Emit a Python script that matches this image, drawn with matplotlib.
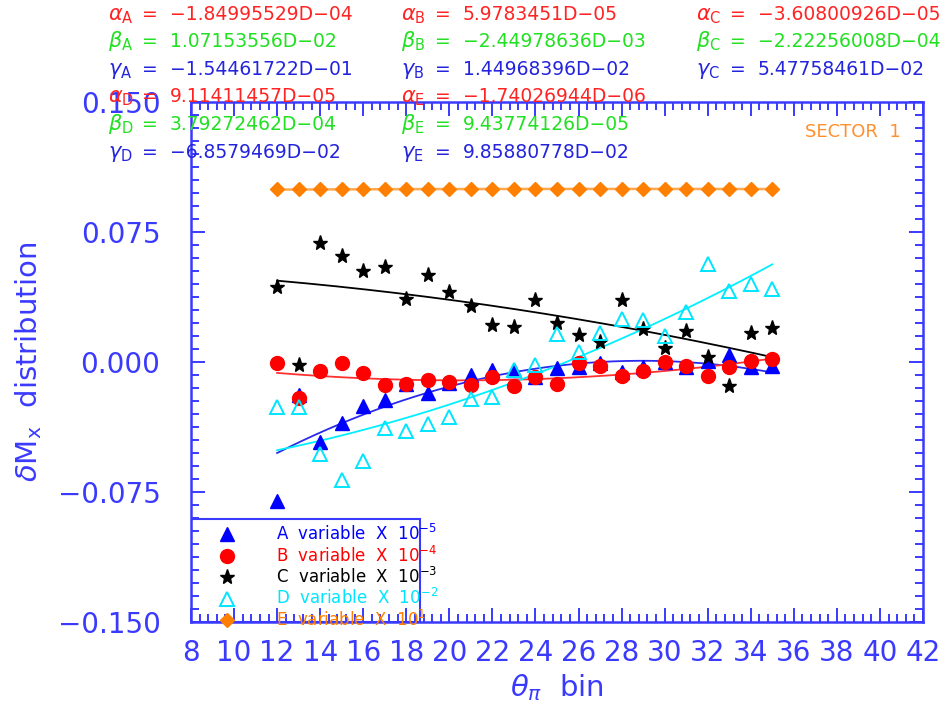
"""Sector 1 delta-Mx distributions vs theta_pi bin, with quadratic fits."""
import matplotlib
matplotlib.use("Agg")
import matplotlib.pyplot as plt
import numpy as np
from matplotlib.patches import Rectangle
from matplotlib.ticker import MultipleLocator

# theta_pi bins
bins = list(range(12, 36))

# measured points (already scaled as in the legend)
var_a = [-0.0800, -0.0190, -0.0460, -0.0354, -0.0254, -0.0219, -0.0129, -0.0177,
         -0.0123, -0.0075, -0.0046, -0.0046, -0.0085, -0.0037, -0.0027, -0.0008,
         -0.0060, -0.0027, 0.0002, -0.0027, 0.0006, 0.0040, -0.0031, -0.0021]
var_b = [-0.0008, -0.0206, -0.0050, -0.0008, -0.0065, -0.0133, -0.0129, -0.0104,
         -0.0113, -0.0133, -0.0088, -0.0137, -0.0085, -0.0129, -0.0004, -0.0023,
         -0.0081, -0.0052, -0.0002, -0.0023, -0.0079, -0.0031, 0.0008, 0.0017]
var_c = [0.0431, -0.0017, 0.0685, 0.0613, 0.0527, 0.0550, 0.0364, 0.0502,
         0.0402, 0.0325, 0.0213, 0.0200, 0.0358, 0.0227, 0.0156, 0.0117,
         0.0358, 0.0188, 0.0079, 0.0179, 0.0031, -0.0138, 0.0169, 0.0194]
var_d = [-0.0258, -0.0258, -0.0533, -0.0681, -0.0571, -0.0379, -0.0396, -0.0358,
         -0.0319, -0.0215, -0.0200, -0.0046, -0.0017, 0.0160, 0.0060, 0.0169,
         0.0248, 0.0242, 0.0150, 0.0290, 0.0564, 0.0410, 0.0448, 0.0421]
var_e = [0.0996] * 24

series_names = ["A", "B", "C", "D", "E"]
series_scale = ["-5", "-4", "-3", "-2", "1"]

# fit coefficients as printed on the plot (y = alpha*x^2 + beta*x + gamma)
alpha_txt = ["−1.84995529D−04", "5.9783451D−05", "−3.60800926D−05",
             "9.11411457D−05", "−1.74026944D−06"]
beta_txt = ["1.07153556D−02", "−2.44978636D−03", "−2.22256008D−04",
            "3.79272462D−04", "9.43774126D−05"]
gamma_txt = ["−1.54461722D−01", "1.44968396D−02", "5.47758461D−02",
             "−6.8579469D−02", "9.85880778D−02"]

yticks = [-0.150, -0.075, 0.000, 0.075, 0.150]
ytick_labels = ["−0.150", "−0.075", "0.000", "0.075", "0.150"]
xticks = list(range(8, 43, 2))


def to_float(s):
    return float(s.replace("−", "-").replace("D", "e"))


BLUE_AX = "#3a3aff"
COLORS = ["#0000ff", "#ff0000", "#000000", "#00e5ff", "#ff8000"]
FIT_COLORS = ["#2a2aee", "#ff3030", "#000000", "#00f0ff", "#ffa850"]
TXT_RED, TXT_GREEN, TXT_BLUE = "#ff2424", "#22e022", "#2424dd"

W, H = 950, 715
fig = plt.figure(figsize=(W / 100, H / 100), dpi=100)
ax = fig.add_axes([191 / W, 1 - 622 / H, (923 - 191) / W, (622 - 102) / H])

# fitted parabolas
xs = np.linspace(bins[0], bins[-1], 200)
for i in range(5):
    a, b, c = to_float(alpha_txt[i]), to_float(beta_txt[i]), to_float(gamma_txt[i])
    ax.plot(xs, a * xs ** 2 + b * xs + c, color=FIT_COLORS[i],
            lw=1.8 if i == 4 else 1.3, zorder=2)

# data points
data = [var_a, var_b, var_c, var_d, var_e]
styles = [
    dict(marker="^", ms=10, mfc=COLORS[0], mec=COLORS[0]),
    dict(marker="o", ms=10, mfc=COLORS[1], mec=COLORS[1]),
    dict(marker="*", ms=11, mfc=COLORS[2], mec=COLORS[2]),
    dict(marker="^", ms=10, mfc="none", mec=COLORS[3], mew=1.4),
    dict(marker="D", ms=7, mfc=COLORS[4], mec=COLORS[4]),
]
handles = []
for i in range(5):
    h, = ax.plot(bins, data[i], ls="none", zorder=3, clip_on=False,
                 label=f"{series_names[i]}  variable  X  $10^{{{series_scale[i]}}}$",
                 **styles[i])
    handles.append(h)

ax.set_xlim(8, 42)
ax.set_ylim(-0.150, 0.150)
ax.set_yticks(yticks)
ax.set_yticklabels(ytick_labels)
ax.set_xticks(xticks)
ax.xaxis.set_minor_locator(MultipleLocator(0.4))
ax.yaxis.set_minor_locator(MultipleLocator(0.0075))
ax.tick_params(which="both", direction="in", top=True, right=True,
               colors=BLUE_AX, width=1.4)
ax.tick_params(which="major", length=10, labelsize=20, pad=12)
ax.tick_params(which="minor", length=5.5)
ax.tick_params(axis="y", pad=22)
for sp in ax.spines.values():
    sp.set_color(BLUE_AX)
    sp.set_linewidth(1.8)

ax.set_ylabel(r"$\delta$M$_{\rm x}$  distribution", color=BLUE_AX, fontsize=21,
              labelpad=10)
ax.set_xlabel(r"$\theta_{\pi}$  bin", color=BLUE_AX, fontsize=21, labelpad=4)

ax.text((901 - 191) / (923 - 191), 1 - (137 - 102) / (622 - 102),
        "SECTOR  1", transform=ax.transAxes, ha="right", va="baseline",
        color="#ff9030", fontsize=13)

# legend box (top and right edges visible above the axis frame)
ax.add_patch(Rectangle((0, 0), (420 - 191) / (923 - 191), (622 - 519) / (622 - 102),
                       transform=ax.transAxes, fill=False, edgecolor=BLUE_AX,
                       lw=1.5, zorder=4))
leg = ax.legend(handles=handles, loc="lower left",
                bbox_to_anchor=(0.034, -0.02), fontsize=12, frameon=False,
                borderpad=0.15, labelspacing=0.08, handlelength=1.0,
                handletextpad=2.45, borderaxespad=0, labelcolor=COLORS)

# fit coefficient block at the top
greek = [r"\alpha", r"\beta", r"\gamma"]
txt_cols = [TXT_RED, TXT_GREEN, TXT_BLUE]
values = [alpha_txt, beta_txt, gamma_txt]
col_x = [108, 401, 696]
baselines = [[20, 47, 75], [102, 130, 158]]
for i in range(5):
    block, col = divmod(i, 3)
    x0 = col_x[col]
    for k in range(3):
        yb = 1 - baselines[block][k] / H
        fig.text(x0 / W, yb, rf"${greek[k]}_{{\rm {series_names[i]}}}$",
                 color=txt_cols[k], fontsize=15, va="baseline")
        fig.text((x0 + 34) / W, yb, "=", color=txt_cols[k], fontsize=13.5,
                 va="baseline")
        fig.text((x0 + 62) / W, yb, values[k][i], color=txt_cols[k],
                 fontsize=13.5, va="baseline")

fig.savefig("out.png", dpi=100)
